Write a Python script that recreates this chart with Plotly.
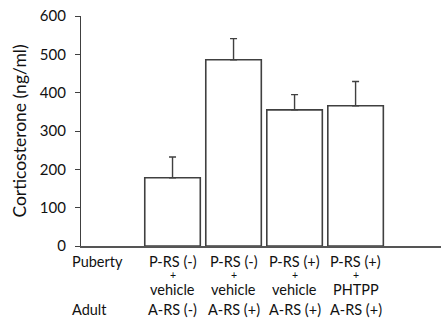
import plotly.graph_objects as go

# Data
groups = [1, 2, 3, 4]
corticosterone = [178, 486, 355, 366]
sem = [54, 55, 40, 63]
puberty_line1 = ["P-RS (-)", "P-RS (-)", "P-RS (+)", "P-RS (+)"]
puberty_line2 = ["+", "+", "+", "+"]
puberty_line3 = ["vehicle", "vehicle", "vehicle", "PHTPP"]
adult_labels = ["A-RS (-)", "A-RS (+)", "A-RS (+)", "A-RS (+)"]
y_ticks = [0, 100, 200, 300, 400, 500, 600]

FONT = "Lato, 'Open Sans', sans-serif"
DARK = "#404040"

fig = go.Figure()
fig.add_trace(go.Bar(
    x=groups, y=corticosterone, width=0.91,
    marker=dict(color="white", line=dict(color=DARK, width=1.6)),
    error_y=dict(type="data", array=sem, arrayminus=[0]*4, symmetric=False,
                 color=DARK, thickness=1.4, width=3.5),
    showlegend=False,
))

annotations = []
for g, a, b, c, d in zip(groups, puberty_line1, puberty_line2, puberty_line3, adult_labels):
    for txt, shift, size in [(a, -15, 14.5), (b, -29, 10.5), (c, -43, 14.5), (d, -63, 14.5)]:
        annotations.append(dict(x=g, y=0, xref="x", yref="paper", text=txt,
                                showarrow=False, xanchor="center", yanchor="middle",
                                yshift=shift, font=dict(family=FONT, size=size, color="#111")))
for txt, shift in [("Puberty", -15), ("Adult", -63)]:
    annotations.append(dict(x=-11/360, y=0, xref="paper", yref="paper", text=txt,
                            showarrow=False, xanchor="left", yanchor="middle",
                            yshift=shift, font=dict(family=FONT, size=14.5, color="#111")))

fig.update_layout(
    width=441, height=325,
    margin=dict(l=81, r=0, t=16, b=78.5),
    plot_bgcolor="white", paper_bgcolor="white",
    font=dict(family=FONT, size=15, color="#111"),
    xaxis=dict(range=[-0.5, 5.4], showticklabels=False, ticks="", showgrid=False,
               zeroline=False, showline=True, linecolor="#555", linewidth=1.5),
    yaxis=dict(range=[0, 600], tickvals=y_ticks, ticks="outside", ticklen=5,
               tickwidth=1.2, tickcolor=DARK, showgrid=False, zeroline=False,
               showline=True, linecolor=DARK, linewidth=1.2, ticklabelstandoff=6,
               title=dict(text="Corticosterone (ng/ml)", font=dict(size=17.5), standoff=8),
               tickfont=dict(size=15)),
    annotations=annotations,
)

fig.write_html("out.html")
